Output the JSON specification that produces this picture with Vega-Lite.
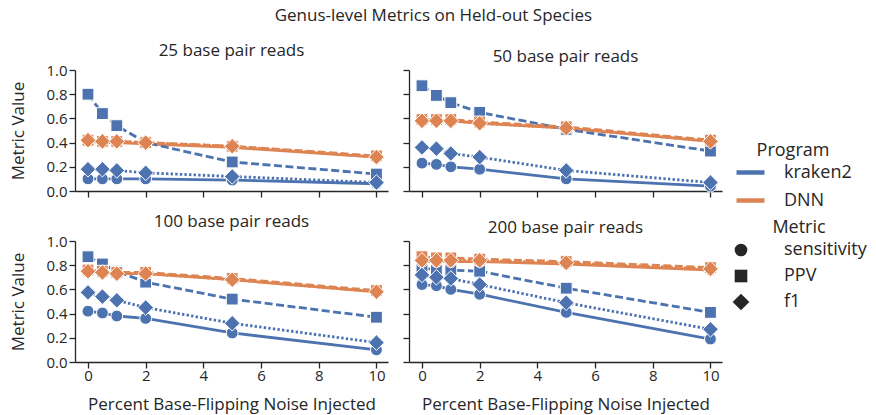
{
  "$schema": "https://vega.github.io/schema/vega-lite/v6.json",
  "background": "white",
  "padding": {"left": 9, "top": 7, "right": 5, "bottom": 3},
  "title": {"text": "Genus-level Metrics on Held-out Species", "fontSize": 17, "fontWeight": "normal", "color": "#262626", "font": "Open Sans", "anchor": "middle", "offset": 17, "dx": -5},
  "datasets": {
    "d": [
      {"r":"25","x":0,"p":"kraken2","m":"sensitivity","v":0.10},{"r":"25","x":0.5,"p":"kraken2","m":"sensitivity","v":0.10},{"r":"25","x":1,"p":"kraken2","m":"sensitivity","v":0.10},{"r":"25","x":2,"p":"kraken2","m":"sensitivity","v":0.10},{"r":"25","x":5,"p":"kraken2","m":"sensitivity","v":0.09},{"r":"25","x":10,"p":"kraken2","m":"sensitivity","v":0.06},
      {"r":"25","x":0,"p":"kraken2","m":"PPV","v":0.80},{"r":"25","x":0.5,"p":"kraken2","m":"PPV","v":0.64},{"r":"25","x":1,"p":"kraken2","m":"PPV","v":0.54},{"r":"25","x":2,"p":"kraken2","m":"PPV","v":0.40},{"r":"25","x":5,"p":"kraken2","m":"PPV","v":0.24},{"r":"25","x":10,"p":"kraken2","m":"PPV","v":0.14},
      {"r":"25","x":0,"p":"kraken2","m":"f1","v":0.18},{"r":"25","x":0.5,"p":"kraken2","m":"f1","v":0.18},{"r":"25","x":1,"p":"kraken2","m":"f1","v":0.17},{"r":"25","x":2,"p":"kraken2","m":"f1","v":0.15},{"r":"25","x":5,"p":"kraken2","m":"f1","v":0.12},{"r":"25","x":10,"p":"kraken2","m":"f1","v":0.07},
      {"r":"25","x":0,"p":"DNN","m":"sensitivity","v":0.41},{"r":"25","x":0.5,"p":"DNN","m":"sensitivity","v":0.40},{"r":"25","x":1,"p":"DNN","m":"sensitivity","v":0.40},{"r":"25","x":2,"p":"DNN","m":"sensitivity","v":0.39},{"r":"25","x":5,"p":"DNN","m":"sensitivity","v":0.36},{"r":"25","x":10,"p":"DNN","m":"sensitivity","v":0.28},
      {"r":"25","x":0,"p":"DNN","m":"PPV","v":0.42},{"r":"25","x":0.5,"p":"DNN","m":"PPV","v":0.41},{"r":"25","x":1,"p":"DNN","m":"PPV","v":0.41},{"r":"25","x":2,"p":"DNN","m":"PPV","v":0.40},{"r":"25","x":5,"p":"DNN","m":"PPV","v":0.37},{"r":"25","x":10,"p":"DNN","m":"PPV","v":0.29},
      {"r":"25","x":0,"p":"DNN","m":"f1","v":0.42},{"r":"25","x":0.5,"p":"DNN","m":"f1","v":0.41},{"r":"25","x":1,"p":"DNN","m":"f1","v":0.41},{"r":"25","x":2,"p":"DNN","m":"f1","v":0.40},{"r":"25","x":5,"p":"DNN","m":"f1","v":0.37},{"r":"25","x":10,"p":"DNN","m":"f1","v":0.28},

      {"r":"50","x":0,"p":"kraken2","m":"sensitivity","v":0.23},{"r":"50","x":0.5,"p":"kraken2","m":"sensitivity","v":0.22},{"r":"50","x":1,"p":"kraken2","m":"sensitivity","v":0.20},{"r":"50","x":2,"p":"kraken2","m":"sensitivity","v":0.18},{"r":"50","x":5,"p":"kraken2","m":"sensitivity","v":0.10},{"r":"50","x":10,"p":"kraken2","m":"sensitivity","v":0.04},
      {"r":"50","x":0,"p":"kraken2","m":"PPV","v":0.87},{"r":"50","x":0.5,"p":"kraken2","m":"PPV","v":0.79},{"r":"50","x":1,"p":"kraken2","m":"PPV","v":0.73},{"r":"50","x":2,"p":"kraken2","m":"PPV","v":0.65},{"r":"50","x":5,"p":"kraken2","m":"PPV","v":0.51},{"r":"50","x":10,"p":"kraken2","m":"PPV","v":0.33},
      {"r":"50","x":0,"p":"kraken2","m":"f1","v":0.36},{"r":"50","x":0.5,"p":"kraken2","m":"f1","v":0.35},{"r":"50","x":1,"p":"kraken2","m":"f1","v":0.31},{"r":"50","x":2,"p":"kraken2","m":"f1","v":0.28},{"r":"50","x":5,"p":"kraken2","m":"f1","v":0.17},{"r":"50","x":10,"p":"kraken2","m":"f1","v":0.07},
      {"r":"50","x":0,"p":"DNN","m":"sensitivity","v":0.58},{"r":"50","x":0.5,"p":"DNN","m":"sensitivity","v":0.58},{"r":"50","x":1,"p":"DNN","m":"sensitivity","v":0.58},{"r":"50","x":2,"p":"DNN","m":"sensitivity","v":0.56},{"r":"50","x":5,"p":"DNN","m":"sensitivity","v":0.52},{"r":"50","x":10,"p":"DNN","m":"sensitivity","v":0.41},
      {"r":"50","x":0,"p":"DNN","m":"PPV","v":0.59},{"r":"50","x":0.5,"p":"DNN","m":"PPV","v":0.59},{"r":"50","x":1,"p":"DNN","m":"PPV","v":0.59},{"r":"50","x":2,"p":"DNN","m":"PPV","v":0.57},{"r":"50","x":5,"p":"DNN","m":"PPV","v":0.53},{"r":"50","x":10,"p":"DNN","m":"PPV","v":0.42},
      {"r":"50","x":0,"p":"DNN","m":"f1","v":0.58},{"r":"50","x":0.5,"p":"DNN","m":"f1","v":0.58},{"r":"50","x":1,"p":"DNN","m":"f1","v":0.58},{"r":"50","x":2,"p":"DNN","m":"f1","v":0.56},{"r":"50","x":5,"p":"DNN","m":"f1","v":0.52},{"r":"50","x":10,"p":"DNN","m":"f1","v":0.41},

      {"r":"100","x":0,"p":"kraken2","m":"sensitivity","v":0.42},{"r":"100","x":0.5,"p":"kraken2","m":"sensitivity","v":0.405},{"r":"100","x":1,"p":"kraken2","m":"sensitivity","v":0.38},{"r":"100","x":2,"p":"kraken2","m":"sensitivity","v":0.36},{"r":"100","x":5,"p":"kraken2","m":"sensitivity","v":0.24},{"r":"100","x":10,"p":"kraken2","m":"sensitivity","v":0.10},
      {"r":"100","x":0,"p":"kraken2","m":"PPV","v":0.87},{"r":"100","x":0.5,"p":"kraken2","m":"PPV","v":0.81},{"r":"100","x":1,"p":"kraken2","m":"PPV","v":0.75},{"r":"100","x":2,"p":"kraken2","m":"PPV","v":0.66},{"r":"100","x":5,"p":"kraken2","m":"PPV","v":0.52},{"r":"100","x":10,"p":"kraken2","m":"PPV","v":0.37},
      {"r":"100","x":0,"p":"kraken2","m":"f1","v":0.575},{"r":"100","x":0.5,"p":"kraken2","m":"f1","v":0.54},{"r":"100","x":1,"p":"kraken2","m":"f1","v":0.51},{"r":"100","x":2,"p":"kraken2","m":"f1","v":0.45},{"r":"100","x":5,"p":"kraken2","m":"f1","v":0.32},{"r":"100","x":10,"p":"kraken2","m":"f1","v":0.16},
      {"r":"100","x":0,"p":"DNN","m":"sensitivity","v":0.75},{"r":"100","x":0.5,"p":"DNN","m":"sensitivity","v":0.74},{"r":"100","x":1,"p":"DNN","m":"sensitivity","v":0.73},{"r":"100","x":2,"p":"DNN","m":"sensitivity","v":0.73},{"r":"100","x":5,"p":"DNN","m":"sensitivity","v":0.68},{"r":"100","x":10,"p":"DNN","m":"sensitivity","v":0.58},
      {"r":"100","x":0,"p":"DNN","m":"PPV","v":0.76},{"r":"100","x":0.5,"p":"DNN","m":"PPV","v":0.75},{"r":"100","x":1,"p":"DNN","m":"PPV","v":0.74},{"r":"100","x":2,"p":"DNN","m":"PPV","v":0.74},{"r":"100","x":5,"p":"DNN","m":"PPV","v":0.69},{"r":"100","x":10,"p":"DNN","m":"PPV","v":0.59},
      {"r":"100","x":0,"p":"DNN","m":"f1","v":0.75},{"r":"100","x":0.5,"p":"DNN","m":"f1","v":0.74},{"r":"100","x":1,"p":"DNN","m":"f1","v":0.73},{"r":"100","x":2,"p":"DNN","m":"f1","v":0.73},{"r":"100","x":5,"p":"DNN","m":"f1","v":0.68},{"r":"100","x":10,"p":"DNN","m":"f1","v":0.58},

      {"r":"200","x":0,"p":"kraken2","m":"sensitivity","v":0.64},{"r":"200","x":0.5,"p":"kraken2","m":"sensitivity","v":0.63},{"r":"200","x":1,"p":"kraken2","m":"sensitivity","v":0.60},{"r":"200","x":2,"p":"kraken2","m":"sensitivity","v":0.56},{"r":"200","x":5,"p":"kraken2","m":"sensitivity","v":0.41},{"r":"200","x":10,"p":"kraken2","m":"sensitivity","v":0.19},
      {"r":"200","x":0,"p":"kraken2","m":"PPV","v":0.77},{"r":"200","x":0.5,"p":"kraken2","m":"PPV","v":0.77},{"r":"200","x":1,"p":"kraken2","m":"PPV","v":0.76},{"r":"200","x":2,"p":"kraken2","m":"PPV","v":0.75},{"r":"200","x":5,"p":"kraken2","m":"PPV","v":0.61},{"r":"200","x":10,"p":"kraken2","m":"PPV","v":0.41},
      {"r":"200","x":0,"p":"kraken2","m":"f1","v":0.72},{"r":"200","x":0.5,"p":"kraken2","m":"f1","v":0.70},{"r":"200","x":1,"p":"kraken2","m":"f1","v":0.69},{"r":"200","x":2,"p":"kraken2","m":"f1","v":0.64},{"r":"200","x":5,"p":"kraken2","m":"f1","v":0.49},{"r":"200","x":10,"p":"kraken2","m":"f1","v":0.27},
      {"r":"200","x":0,"p":"DNN","m":"sensitivity","v":0.83},{"r":"200","x":0.5,"p":"DNN","m":"sensitivity","v":0.83},{"r":"200","x":1,"p":"DNN","m":"sensitivity","v":0.83},{"r":"200","x":2,"p":"DNN","m":"sensitivity","v":0.83},{"r":"200","x":5,"p":"DNN","m":"sensitivity","v":0.81},{"r":"200","x":10,"p":"DNN","m":"sensitivity","v":0.76},
      {"r":"200","x":0,"p":"DNN","m":"PPV","v":0.87},{"r":"200","x":0.5,"p":"DNN","m":"PPV","v":0.86},{"r":"200","x":1,"p":"DNN","m":"PPV","v":0.86},{"r":"200","x":2,"p":"DNN","m":"PPV","v":0.85},{"r":"200","x":5,"p":"DNN","m":"PPV","v":0.83},{"r":"200","x":10,"p":"DNN","m":"PPV","v":0.78},
      {"r":"200","x":0,"p":"DNN","m":"f1","v":0.84},{"r":"200","x":0.5,"p":"DNN","m":"f1","v":0.84},{"r":"200","x":1,"p":"DNN","m":"f1","v":0.84},{"r":"200","x":2,"p":"DNN","m":"f1","v":0.84},{"r":"200","x":5,"p":"DNN","m":"f1","v":0.82},{"r":"200","x":10,"p":"DNN","m":"f1","v":0.77}
    ]
  },
  "data": {"name": "d"},
  "spacing": 14,
  "vconcat": [
    {
      "spacing": 14,
      "hconcat": [
        {
          "title": "25 base pair reads",
          "width": 313, "height": 121,
          "transform": [{"filter": "datum.r == '25'"}],
          "encoding": {
            "x": {"field": "x", "type": "quantitative", "scale": {"domain": [-0.45, 10.4], "nice": false, "zero": false}, "axis": {"values": [0,2,4,6,8,10], "labels": false, "title": null}},
            "y": {"field": "v", "type": "quantitative", "scale": {"domain": [0, 1], "nice": false}, "axis": {"values": [0,0.2,0.4,0.6,0.8,1.0], "format": ".1f", "title": "Metric Value"}},
            "color": {"field": "p", "type": "nominal", "scale": {"domain": ["kraken2", "DNN"], "range": ["#4c72b0", "#dd8452"]}, "title": "Program", "legend": {"orient": "none", "legendX": 659, "legendY": 72, "symbolType": "stroke", "symbolStrokeWidth": 4.5, "symbolSize": 784, "labelOffset": 17, "titleAnchor": "middle", "rowPadding": 2, "titlePadding": -4}}
          },
          "layer": [
            {"transform": [{"filter": "datum.m == 'sensitivity'"}], "mark": {"type": "line", "strokeWidth": 2.8}, "encoding": {}},
            {"transform": [{"filter": "datum.m == 'PPV'"}], "mark": {"type": "line", "strokeWidth": 2.8, "strokeDash": [8, 3.5]}, "encoding": {}},
            {"transform": [{"filter": "datum.m == 'f1'"}], "mark": {"type": "line", "strokeWidth": 2.8, "strokeDash": [2.4, 2.2]}, "encoding": {}},
            {"mark": {"type": "point", "filled": true, "size": 140, "stroke": "white", "strokeWidth": 1, "opacity": 1}, "encoding": {"shape": {"field": "m", "type": "nominal", "scale": {"domain": ["sensitivity", "PPV", "f1"], "range": ["circle", "square", "M0,-1.32L1.32,0L0,1.32L-1.32,0Z"]}, "title": "Metric", "legend": {"orient": "none", "legendX": 657, "legendY": 149, "symbolFillColor": "#262626", "symbolStrokeColor": "#262626", "symbolStrokeWidth": 0, "symbolSize": 160, "labelOffset": 34, "titleAnchor": "middle", "encode": {"symbols": {"update": {"shape": {"signal": "datum.value === 'sensitivity' ? 'M-0.95,0A0.95,0.95 0 1,0 0.95,0A0.95,0.95 0 1,0 -0.95,0Z M2.15,0A0.95,0.95 0 1,0 4.05,0A0.95,0.95 0 1,0 2.15,0Z M0,-0.3H3.1V0.3H0Z' : datum.value === 'PPV' ? 'M-0.95,-0.95H0.95V0.95H-0.95Z M2.15,-0.95H4.05V0.95H2.15Z M0,-0.3H3.1V0.3H0Z' : 'M0,-1.15L1.15,0L0,1.15L-1.15,0Z M3.1,-1.15L4.25,0L3.1,1.15L1.95,0Z M0,-0.3H3.1V0.3H0Z'"}}}}}}}}
          ]
        },
        {
          "title": "50 base pair reads",
          "width": 313, "height": 121,
          "transform": [{"filter": "datum.r == '50'"}],
          "encoding": {
            "x": {"field": "x", "type": "quantitative", "scale": {"domain": [-0.45, 10.4], "nice": false, "zero": false}, "axis": {"values": [0,2,4,6,8,10], "labels": false, "title": null}},
            "y": {"field": "v", "type": "quantitative", "scale": {"domain": [0, 1], "nice": false}, "axis": {"values": [0,0.2,0.4,0.6,0.8,1.0], "labels": false, "title": null}},
            "color": {"field": "p", "type": "nominal", "scale": {"domain": ["kraken2", "DNN"], "range": ["#4c72b0", "#dd8452"]}, "title": "Program"}
          },
          "layer": [
            {"transform": [{"filter": "datum.m == 'sensitivity'"}], "mark": {"type": "line", "strokeWidth": 2.8}, "encoding": {}},
            {"transform": [{"filter": "datum.m == 'PPV'"}], "mark": {"type": "line", "strokeWidth": 2.8, "strokeDash": [8, 3.5]}, "encoding": {}},
            {"transform": [{"filter": "datum.m == 'f1'"}], "mark": {"type": "line", "strokeWidth": 2.8, "strokeDash": [2.4, 2.2]}, "encoding": {}},
            {"mark": {"type": "point", "filled": true, "size": 140, "stroke": "white", "strokeWidth": 1, "opacity": 1}, "encoding": {"shape": {"field": "m", "type": "nominal", "scale": {"domain": ["sensitivity", "PPV", "f1"], "range": ["circle", "square", "M0,-1.32L1.32,0L0,1.32L-1.32,0Z"]}, "title": "Metric"}}}
          ]
        }
      ]
    },
    {
      "spacing": 14,
      "hconcat": [
        {
          "title": "100 base pair reads",
          "width": 313, "height": 121,
          "transform": [{"filter": "datum.r == '100'"}],
          "encoding": {
            "x": {"field": "x", "type": "quantitative", "scale": {"domain": [-0.45, 10.4], "nice": false, "zero": false}, "axis": {"values": [0,2,4,6,8,10], "title": "Percent Base-Flipping Noise Injected"}},
            "y": {"field": "v", "type": "quantitative", "scale": {"domain": [0, 1], "nice": false}, "axis": {"values": [0,0.2,0.4,0.6,0.8,1.0], "format": ".1f", "title": "Metric Value"}},
            "color": {"field": "p", "type": "nominal", "scale": {"domain": ["kraken2", "DNN"], "range": ["#4c72b0", "#dd8452"]}, "title": "Program"}
          },
          "layer": [
            {"transform": [{"filter": "datum.m == 'sensitivity'"}], "mark": {"type": "line", "strokeWidth": 2.8}, "encoding": {}},
            {"transform": [{"filter": "datum.m == 'PPV'"}], "mark": {"type": "line", "strokeWidth": 2.8, "strokeDash": [8, 3.5]}, "encoding": {}},
            {"transform": [{"filter": "datum.m == 'f1'"}], "mark": {"type": "line", "strokeWidth": 2.8, "strokeDash": [2.4, 2.2]}, "encoding": {}},
            {"mark": {"type": "point", "filled": true, "size": 140, "stroke": "white", "strokeWidth": 1, "opacity": 1}, "encoding": {"shape": {"field": "m", "type": "nominal", "scale": {"domain": ["sensitivity", "PPV", "f1"], "range": ["circle", "square", "M0,-1.32L1.32,0L0,1.32L-1.32,0Z"]}, "title": "Metric"}}}
          ]
        },
        {
          "title": "200 base pair reads",
          "width": 313, "height": 121,
          "transform": [{"filter": "datum.r == '200'"}],
          "encoding": {
            "x": {"field": "x", "type": "quantitative", "scale": {"domain": [-0.45, 10.4], "nice": false, "zero": false}, "axis": {"values": [0,2,4,6,8,10], "title": "Percent Base-Flipping Noise Injected"}},
            "y": {"field": "v", "type": "quantitative", "scale": {"domain": [0, 1], "nice": false}, "axis": {"values": [0,0.2,0.4,0.6,0.8,1.0], "labels": false, "title": null}},
            "color": {"field": "p", "type": "nominal", "scale": {"domain": ["kraken2", "DNN"], "range": ["#4c72b0", "#dd8452"]}, "title": "Program"}
          },
          "layer": [
            {"transform": [{"filter": "datum.m == 'sensitivity'"}], "mark": {"type": "line", "strokeWidth": 2.8}, "encoding": {}},
            {"transform": [{"filter": "datum.m == 'PPV'"}], "mark": {"type": "line", "strokeWidth": 2.8, "strokeDash": [8, 3.5]}, "encoding": {}},
            {"transform": [{"filter": "datum.m == 'f1'"}], "mark": {"type": "line", "strokeWidth": 2.8, "strokeDash": [2.4, 2.2]}, "encoding": {}},
            {"mark": {"type": "point", "filled": true, "size": 140, "stroke": "white", "strokeWidth": 1, "opacity": 1}, "encoding": {"shape": {"field": "m", "type": "nominal", "scale": {"domain": ["sensitivity", "PPV", "f1"], "range": ["circle", "square", "M0,-1.32L1.32,0L0,1.32L-1.32,0Z"]}, "title": "Metric"}}}
          ]
        }
      ]
    }
  ],
  "resolve": {"scale": {"color": "shared", "shape": "shared"}},
  "config": {
    "font": "Open Sans",
    "view": {"stroke": null},
    "title": {"fontSize": 17, "fontWeight": "normal", "color": "#262626", "font": "Open Sans", "offset": 3},
    "axis": {"grid": false, "domainColor": "#262626", "domainWidth": 1.3, "tickColor": "#262626", "tickWidth": 1.3, "tickSize": 6, "labelFont": "Open Sans", "labelFontSize": 15, "labelColor": "#262626", "titleFont": "Open Sans", "titleFontSize": 17, "titleFontWeight": "normal", "titleColor": "#262626", "labelPadding": 0, "titlePadding": 13},
    "axisY": {"titlePadding": 18, "labelPadding": 2},
    "legend": {"titleFont": "Open Sans", "titleFontSize": 18, "titleFontWeight": "normal", "titleColor": "#262626", "labelFont": "Open Sans", "labelFontSize": 18, "labelColor": "#262626", "rowPadding": 8, "titlePadding": 4}
  }
}
